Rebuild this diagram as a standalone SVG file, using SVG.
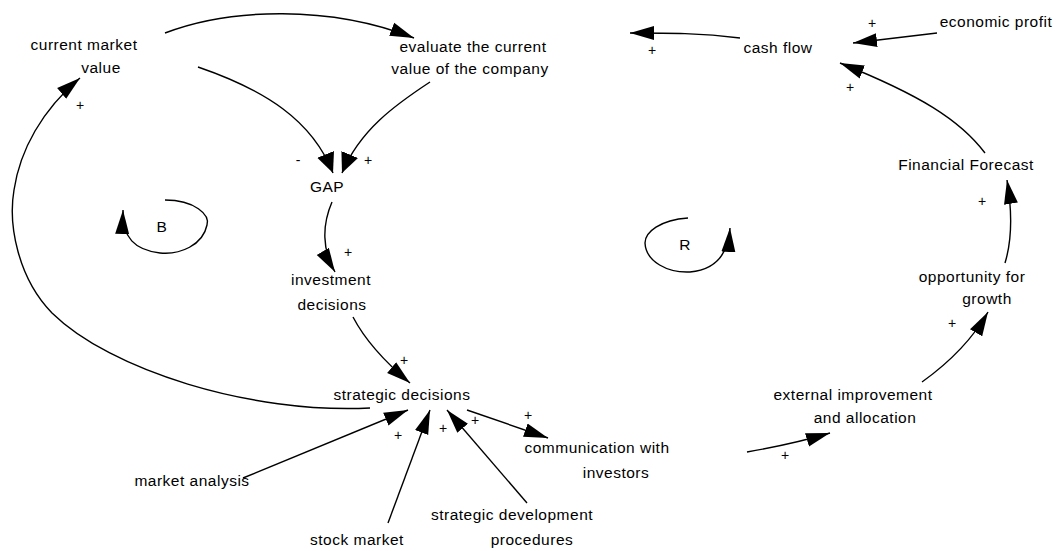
<svg xmlns="http://www.w3.org/2000/svg" width="1060" height="551" viewBox="0 0 1060 551">
<style>
text{font-family:"Liberation Sans",Arial,sans-serif;font-size:15.5px;letter-spacing:0.5px;fill:#000;text-anchor:middle}
text.pm{font-size:14px;letter-spacing:0}
.c{fill:none;stroke:#000;stroke-width:1.4}
</style>
<defs>
<marker id="ah" markerUnits="userSpaceOnUse" markerWidth="26" markerHeight="16" viewBox="0 0 26 16" refX="24" refY="8" orient="auto">
<path d="M0,1 L24,8 L0,15 Z" fill="#000"/>
</marker>
<marker id="ahf" markerUnits="userSpaceOnUse" markerWidth="22" markerHeight="20" viewBox="0 0 22 20" refX="20" refY="10" orient="auto">
<path d="M0,1 L20,10 L0,19 Z" fill="#000"/>
</marker>
</defs>
<rect width="1060" height="551" fill="#fff"/>
<g id="connectors">
<path class="c" marker-end="url(#ah)" d="M165,33 C 230,8 330,5 414,38"/>
<path class="c" marker-end="url(#ahf)" d="M198,67 C 265,90 312,120 333,173"/>
<path class="c" marker-end="url(#ahf)" d="M430,82 C 395,105 360,130 342,173"/>
<path class="c" marker-end="url(#ah)" d="M332,202 C 322,225 322,250 335,272"/>
<path class="c" marker-end="url(#ah)" d="M353,317 C 365,340 385,362 410,383"/>
<path class="c" marker-end="url(#ah)" d="M370,408 C 250,414 110,370 52,313 C 18,278 8,225 14,190 C 20,150 42,110 80,78"/>
<path class="c" marker-end="url(#ah)" d="M467,410 L 548,438"/>
<path class="c" marker-end="url(#ah)" d="M747,452 C 770,448 800,442 830,433"/>
<path class="c" marker-end="url(#ah)" d="M922,382 C 950,362 972,340 988,312"/>
<path class="c" marker-end="url(#ah)" d="M1005,263 C 1012,240 1012,210 1007,180"/>
<path class="c" marker-end="url(#ah)" d="M985,153 C 960,120 920,95 840,63"/>
<path class="c" marker-end="url(#ah)" d="M937,33 L 853,43"/>
<path class="c" marker-end="url(#ah)" d="M740,38 C 700,33 670,33 630,33"/>
<path class="c" marker-end="url(#ah)" d="M243,478 L 408,410"/>
<path class="c" marker-end="url(#ah)" d="M388,523 L 430,410"/>
<path class="c" marker-end="url(#ah)" d="M527,503 L 447,410"/>
<path class="c" marker-end="url(#ah)" d="M165,200 C 195,200 210,215 207,225 C 203,245 180,255 160,253 C 135,250 122,238 123,210"/>
<path class="c" marker-end="url(#ah)" d="M688,218 C 660,220 645,232 645,243 C 646,262 668,273 690,272 C 712,270 728,258 730,228"/>
</g>
<g id="labels">
<text class="pm" x="80" y="110">+</text>
<text class="pm" x="298" y="165">-</text>
<text class="pm" x="368" y="165">+</text>
<text class="pm" x="348" y="257">+</text>
<text class="pm" x="404" y="365">+</text>
<text class="pm" x="398" y="440">+</text>
<text class="pm" x="443" y="433">+</text>
<text class="pm" x="475" y="425">+</text>
<text class="pm" x="528" y="420">+</text>
<text class="pm" x="785" y="460">+</text>
<text class="pm" x="952" y="328">+</text>
<text class="pm" x="982" y="206">+</text>
<text class="pm" x="850" y="92">+</text>
<text class="pm" x="872" y="28">+</text>
<text class="pm" x="652" y="55">+</text>
</g>
<g id="node-current-market-value"><text x="84" y="50">current market</text><text x="101" y="73">value</text></g>
<g id="node-evaluate"><text x="473" y="52">evaluate the current</text><text x="470" y="74">value of the company</text></g>
<g id="node-cash-flow"><text x="778" y="53">cash flow</text></g>
<g id="node-economic-profit"><text x="996" y="27">economic profit</text></g>
<g id="node-financial-forecast"><text x="966" y="170">Financial Forecast</text></g>
<g id="node-opportunity"><text x="972" y="282">opportunity for</text><text x="987" y="304">growth</text></g>
<g id="node-external"><text x="853" y="400">external improvement</text><text x="865" y="423">and allocation</text></g>
<g id="node-communication"><text x="597" y="453">communication with</text><text x="616" y="478">investors</text></g>
<g id="node-strategic-decisions"><text x="402" y="400">strategic decisions</text></g>
<g id="node-investment"><text x="331" y="285">investment</text><text x="332" y="310">decisions</text></g>
<g id="node-gap"><text x="327" y="192">GAP</text></g>
<g id="node-market-analysis"><text x="192" y="486">market analysis</text></g>
<g id="node-stock-market"><text x="357" y="545">stock market</text></g>
<g id="node-strategic-development"><text x="512" y="520">strategic development</text><text x="532" y="545">procedures</text></g>
<g id="loop-b"><text x="162" y="232">B</text></g>
<g id="loop-r"><text x="685" y="250">R</text></g>
</svg>
